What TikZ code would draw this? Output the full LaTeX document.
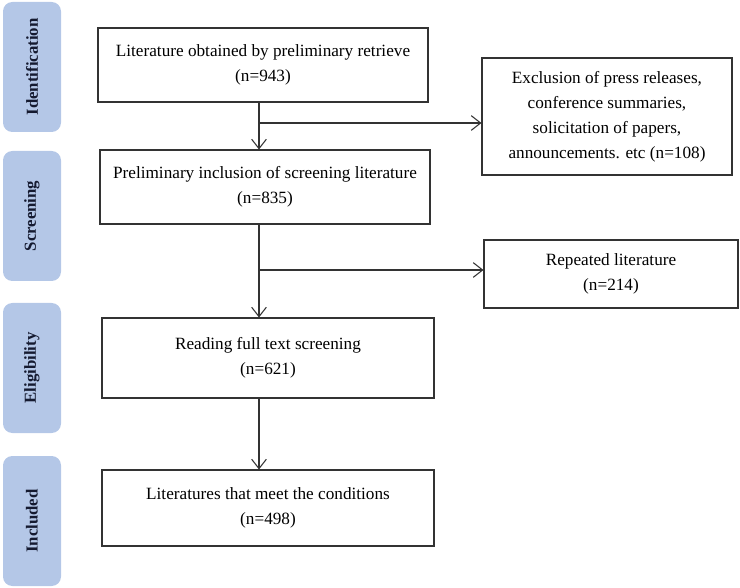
\documentclass[tikz,border=0pt]{standalone}
\usepackage{fontspec}
\setmainfont{Liberation Serif}
\usepackage{tikz}
\usetikzlibrary{arrows.meta}
\definecolor{stageBlue}{HTML}{B4C7E7}
\definecolor{stageText}{HTML}{151A30}
\definecolor{flowGrey}{HTML}{333333}
\tikzset{
  stepbox/.style={rectangle, draw=flowGrey, fill=white, line width=0.8pt, align=center, font=\fontsize{12.9}{18.7}\selectfont, inner sep=2pt},
  stagebox/.style={rectangle, rounded corners=7pt, fill=stageBlue, minimum width=43.5pt, minimum height=97.5pt, inner sep=0pt},
  stagelabel/.style={font=\fontsize{12.6}{14}\selectfont\bfseries, text=stageText, rotate=90},
  flowarrow/.style={-{Straight Barb[length=7pt,width=11pt]}, line width=0.8pt, draw=flowGrey},
}
\begin{document}
\begin{tikzpicture}[x=0.75pt,y=-0.75pt]
  \useasboundingbox (0,0) rectangle (740,588);

  % --- stage labels ---
  \node[stagebox] (sid) at (32,67) {};
  \node[stagelabel] at (sid) {Identification};
  \node[stagebox] (ssc) at (32,216) {};
  \node[stagelabel] at (ssc) {Screening};
  \node[stagebox] (sel) at (32,368) {};
  \node[stagelabel] at (sel) {Eligibility};
  \node[stagebox] (sin) at (32,521) {};
  \node[stagelabel] at (sin) {Included};

  % --- main flow ---
  \node[stepbox, minimum width=247.5pt, minimum height=55.5pt] (retr) at (263,65) {Literature obtained by preliminary retrieve\\(n=943)};
  \node[stepbox, minimum width=247.5pt, minimum height=55.5pt] (prel) at (265,187) {Preliminary inclusion of screening literature\\(n=835)};
  \node[stepbox, minimum width=249pt, minimum height=60pt] (full) at (268,358) {Reading full text screening\\(n=621)};
  \node[stepbox, minimum width=249pt, minimum height=57pt] (meet) at (268,508) {Literatures that meet the conditions\\(n=498)};

  % --- exclusions ---
  \node[stepbox, minimum width=187.5pt, minimum height=87.75pt] (excl) at (607,116.5) {Exclusion of press releases,\\conference summaries,\\solicitation of papers,\\announcements. etc (n=108)};
  \node[stepbox, minimum width=190.5pt, minimum height=51pt] (rep) at (611,274) {Repeated literature\\(n=214)};

  \coordinate (trunk) at (259,0);
  \coordinate (br1) at (259,123);
  \coordinate (br2) at (259,270);

  \draw[flowarrow] (retr.south -| trunk) -- (prel.north -| trunk);
  \draw[flowarrow] (br1) -- (br1 -| excl.west);
  \draw[flowarrow] (prel.south -| trunk) -- (full.north -| trunk);
  \draw[flowarrow] (br2) -- (br2 -| rep.west);
  \draw[flowarrow] (full.south -| trunk) -- (meet.north -| trunk);
\end{tikzpicture}
\end{document}
